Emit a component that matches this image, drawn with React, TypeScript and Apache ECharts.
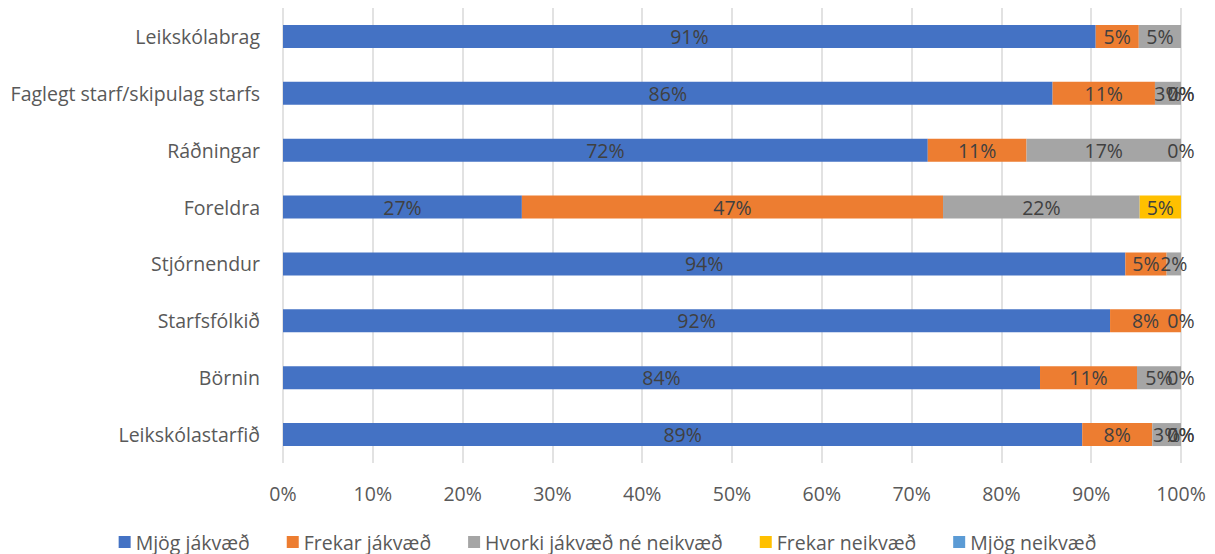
import React, { useEffect, useRef } from "react";
import * as echarts from "echarts";

const categories = [
  "Leikskólabrag",
  "Faglegt starf/skipulag starfs",
  "Ráðningar",
  "Foreldra",
  "Stjórnendur",
  "Starfsfólkið",
  "Börnin",
  "Leikskólastarfið",
];

const seriesNames = [
  "Mjög jákvæð",
  "Frekar jákvæð",
  "Hvorki jákvæð né neikvæð",
  "Frekar neikvæð",
  "Mjög neikvæð",
];

const mjogJakvaed = [90.5, 85.7, 71.8, 26.6, 93.8, 92.1, 84.3, 89.0];
const frekarJakvaed = [4.8, 11.4, 11.0, 46.9, 4.6, 7.9, 10.8, 7.8];
const hvorki = [4.7, 2.9, 17.2, 21.9, 1.6, null, 4.9, 3.2];
const frekarNeikvaed = [null, 0, 0, 4.6, null, 0, 0, 0];
const mjogNeikvaed = [null, 0, null, null, null, null, null, 0];

const xTicks = [0, 10, 20, 30, 40, 50, 60, 70, 80, 90, 100];

const colors = ["#4472C4", "#ED7D31", "#A5A5A5", "#FFC000", "#5B9BD5"];

const FONT = "Open Sans";
const FS = 19.5;

export default function App() {
  const ref = useRef<HTMLDivElement>(null);
  useEffect(() => {
    if (!ref.current) return;
    const chart = echarts.init(ref.current, null, { renderer: "svg" });
    const data = [mjogJakvaed, frekarJakvaed, hvorki, frekarNeikvaed, mjogNeikvaed];
    chart.setOption({
      animation: false,
      color: colors,
      grid: { left: 283, right: 34, top: 8, bottom: 91, containLabel: false },
      legend: {
        top: 527,
        left: "center",
        itemWidth: 12,
        itemHeight: 12,
        itemGap: 37,
        icon: "rect",
        textStyle: { fontFamily: FONT, fontSize: 19.5, color: "#595959" },
        data: seriesNames,
      },
      xAxis: {
        type: "value",
        min: 0,
        max: 100,
        interval: 10,
        axisLine: { show: false },
        axisTick: { show: false },
        splitLine: { show: true, lineStyle: { color: "#D9D9D9", width: 1.5 } },
        axisLabel: {
          formatter: (v: number) => (xTicks.includes(v) ? v + "%" : ""),
          fontFamily: FONT,
          fontSize: FS,
          color: "#595959",
          margin: 20,
        },
      },
      yAxis: {
        type: "category",
        data: categories,
        inverse: true,
        axisLine: { show: false },
        axisTick: { show: false },
        axisLabel: {
          fontFamily: FONT,
          fontSize: FS,
          color: "#595959",
          margin: 23,
        },
      },
      series: seriesNames.map((name, i) => ({
        name,
        type: "bar",
        stack: "total",
        barWidth: 23,
        data: data[i],
        itemStyle: { color: colors[i] },
        label: {
          show: true,
          position: "inside",
          formatter: (p: any) => Math.round(p.value) + "%",
          fontFamily: FONT,
          fontSize: FS,
          color: "#404040",
        },
      })),
    });
    return () => chart.dispose();
  }, []);
  return (
    <div
      ref={ref}
      style={{ position: "absolute", left: 0, top: 0, width: 1215, height: 554 }}
    />
  );
}
